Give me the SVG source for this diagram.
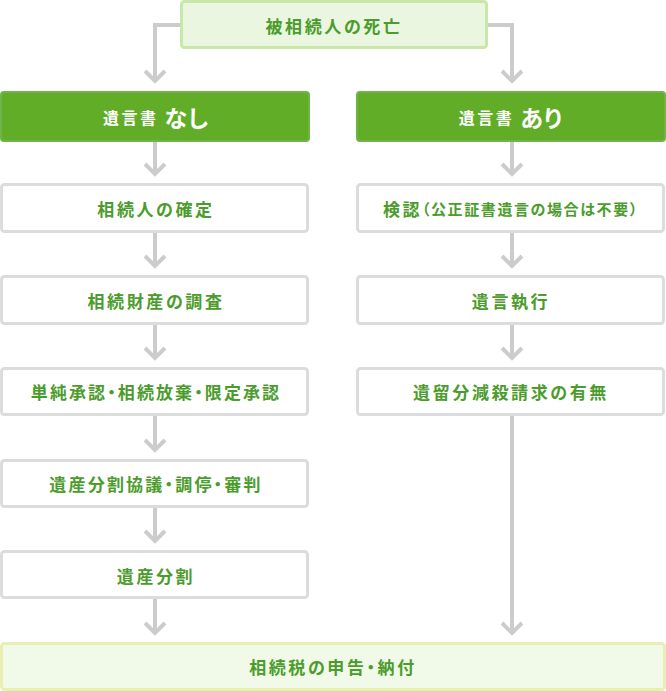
<svg xmlns="http://www.w3.org/2000/svg" width="666" height="691" viewBox="0 0 666 691">
<style>
.t{font-family:"Noto Sans CJK JP","Noto Sans",sans-serif;font-size:17px;font-weight:bold;fill:#4b9c2c;text-anchor:middle;dominant-baseline:central;letter-spacing:2.6px;font-feature-settings:"palt"}
.w{fill:#ffffff;stroke:#dcdcdc;stroke-width:3}
.g{fill:#62ad27;stroke:#6fb447;stroke-width:2}
.c{fill:none;stroke:#cccccc;stroke-width:4}
</style>
<defs>
<marker id="chev" markerUnits="userSpaceOnUse" markerWidth="26" markerHeight="26" viewBox="-13 -13 26 26" refX="0" refY="0" orient="auto">
<path d="M-10,-10 L0,0 L-10,10" fill="none" stroke="#cccccc" stroke-width="4"/>
</marker>
</defs>
<g id="connectors">
<path class="c" d="M181,25 H155 V81" marker-end="url(#chev)"/>
<path class="c" d="M487,25 H512 V81" marker-end="url(#chev)"/>
<path class="c" d="M155,141 V174" marker-end="url(#chev)"/>
<path class="c" d="M155,232 V266" marker-end="url(#chev)"/>
<path class="c" d="M155,324 V358" marker-end="url(#chev)"/>
<path class="c" d="M155,415 V450" marker-end="url(#chev)"/>
<path class="c" d="M155,507 V541" marker-end="url(#chev)"/>
<path class="c" d="M155,598 V633" marker-end="url(#chev)"/>
<path class="c" d="M512,141 V174" marker-end="url(#chev)"/>
<path class="c" d="M512,232 V266" marker-end="url(#chev)"/>
<path class="c" d="M512,324 V358" marker-end="url(#chev)"/>
<path class="c" d="M512,415 V633" marker-end="url(#chev)"/>
</g>
<g id="death">
<rect x="181.5" y="1.5" width="305" height="46" rx="3" fill="#eaf6e0" stroke="#c9e7a9" stroke-width="3"/>
<text class="t" x="334" y="25">被相続人の死亡</text>
</g>
<g id="nowill">
<rect class="g" x="1" y="92" width="308" height="49" rx="3"/>
<text class="t" x="156" y="117" style="fill:#ffffff;letter-spacing:1px"><tspan style="font-size:16px;letter-spacing:2.5px">遺言書</tspan><tspan dx="6" style="font-size:23px">なし</tspan></text>
</g>
<g id="will">
<rect class="g" x="357" y="92" width="308" height="49" rx="3"/>
<text class="t" x="511" y="117" style="fill:#ffffff;letter-spacing:1px"><tspan style="font-size:16px;letter-spacing:2.5px">遺言書</tspan><tspan dx="6" style="font-size:23px">あり</tspan></text>
</g>
<g id="heirs">
<rect class="w" x="1.5" y="184.5" width="306" height="47" rx="3"/>
<text class="t" x="156" y="208">相続人の確定</text>
</g>
<g id="estate">
<rect class="w" x="1.5" y="276.5" width="306" height="47" rx="3"/>
<text class="t" x="156" y="300">相続財産の調査</text>
</g>
<g id="accept">
<rect class="w" x="1.5" y="368.5" width="306" height="46" rx="3"/>
<text class="t" x="156" y="391" style="letter-spacing:2.1px">単純承認・相続放棄・限定承認</text>
</g>
<g id="negotiate">
<rect class="w" x="1.5" y="460.5" width="306" height="46" rx="3"/>
<text class="t" x="156" y="483" style="letter-spacing:2.2px">遺産分割協議・調停・審判</text>
</g>
<g id="division">
<rect class="w" x="1.5" y="551.5" width="306" height="46" rx="3"/>
<text class="t" x="156" y="575">遺産分割</text>
</g>
<g id="probate">
<rect class="w" x="357.5" y="184.5" width="306" height="47" rx="3"/>
<text class="t" x="511" y="208" style="letter-spacing:1.6px"><tspan style="letter-spacing:2.4px">検認</tspan><tspan style="font-size:15px">（公正証書遺言の場合は不要）</tspan></text>
</g>
<g id="execution">
<rect class="w" x="357.5" y="276.5" width="306" height="47" rx="3"/>
<text class="t" x="511" y="300">遺言執行</text>
</g>
<g id="reserve">
<rect class="w" x="357.5" y="368.5" width="306" height="46" rx="3"/>
<text class="t" x="511" y="391">遺留分減殺請求の有無</text>
</g>
<g id="tax">
<rect x="1.5" y="643.5" width="663" height="46" rx="3" fill="#f1f9e8" stroke="#e9efb3" stroke-width="3"/>
<text class="t" x="333" y="666">相続税の申告・納付</text>
</g>
</svg>
